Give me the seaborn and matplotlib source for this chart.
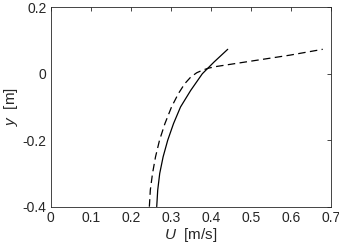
import matplotlib
matplotlib.use('Agg')
import matplotlib.pyplot as plt
import seaborn as sns
import pandas as pd

# solid profile
u_solid = [0.265, 0.2675, 0.2725, 0.281, 0.2925, 0.307, 0.3245, 0.350, 0.379, 0.408, 0.4425]
y_solid = [-0.40, -0.35, -0.30, -0.25, -0.20, -0.15, -0.10, -0.05, 0.00, 0.035, 0.0736]
# dashed profile
u_dash = [0.2466, 0.249, 0.2545, 0.262, 0.272, 0.2855, 0.302, 0.319, 0.335, 0.350,
          0.365, 0.380, 0.395, 0.415, 0.490, 0.598, 0.680]
y_dash = [-0.40, -0.35, -0.30, -0.25, -0.20, -0.15, -0.10, -0.06, -0.03, -0.01,
          0.003, 0.011, 0.017, 0.022, 0.036, 0.056, 0.0736]

sns.set_style('white')
plt.rcParams['font.family'] = ['Liberation Sans', 'DejaVu Sans']
plt.rcParams['mathtext.fontset'] = 'custom'
plt.rcParams['mathtext.it'] = 'Liberation Sans:italic'
plt.rcParams['mathtext.rm'] = 'Liberation Sans'

fig = plt.figure(figsize=(3.39, 2.49), dpi=100)
ax = fig.add_axes([0.1496, 0.170, 0.826, 0.8007])

df1 = pd.DataFrame({'U': u_solid, 'y': y_solid})
df2 = pd.DataFrame({'U': u_dash, 'y': y_dash})
sns.lineplot(data=df1, x='U', y='y', sort=False, color='black', lw=0.9, ax=ax)
sns.lineplot(data=df2, x='U', y='y', sort=False, color='black', lw=0.9,
             linestyle=(0, (6, 3.5)), ax=ax)

ax.set_xlim(0, 0.7)
ax.set_ylim(-0.4, 0.2)
ax.set_xticks([0, 0.1, 0.2, 0.3, 0.4, 0.5, 0.6, 0.7])
ax.set_xticklabels(['0', '0.1', '0.2', '0.3', '0.4', '0.5', '0.6', '0.7'])
ax.set_yticks([-0.4, -0.2, 0, 0.2])
ax.set_yticklabels(['-0.4', '-0.2', '0', '0.2'])
gc = '#262626'
ax.tick_params(direction='in', length=3, width=0.6, colors=gc, labelsize=10,
               top=True, right=True, labelcolor=gc, pad=3)
for s in ax.spines.values():
    s.set_color(gc)
    s.set_linewidth(0.6)
ax.set_xlabel('$U$  [m/s]', fontsize=11, color=gc, labelpad=1)
ax.set_ylabel('$y$  [m]', fontsize=11, color=gc, labelpad=2)

fig.savefig('out.png', dpi=100)
